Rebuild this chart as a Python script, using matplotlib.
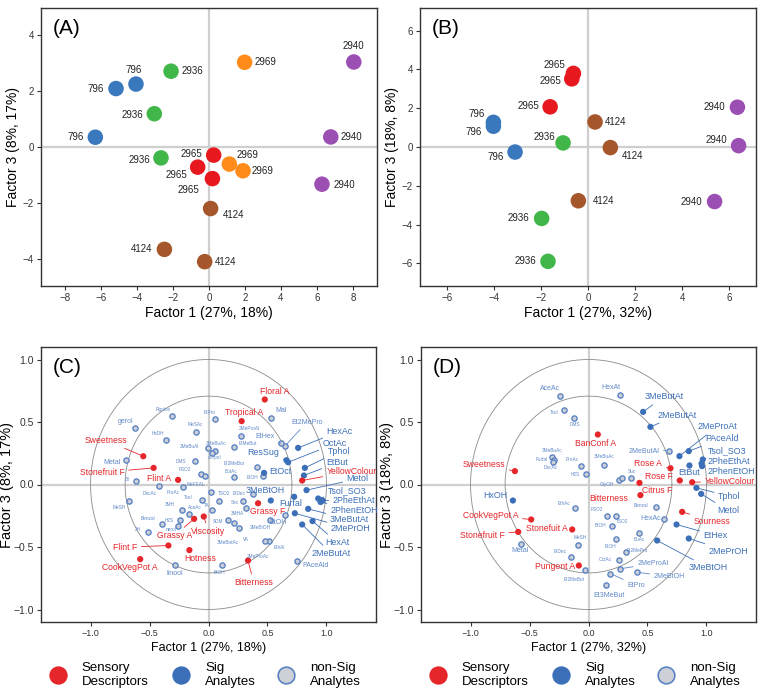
import matplotlib.pyplot as plt
import numpy as np
from matplotlib.lines import Line2D

plt.rcParams['font.family'] = ['Liberation Sans', 'DejaVu Sans']

# ---------------- data: scores (A, B) ----------------
a_names = ['796', '796', '796', '2936', '2936', '2936', '2969', '2969', '2969',
           '2965', '2965', '2965', '2940', '2940', '2940', '4124', '4124', '4124']
a_x = [-5.17, -4.06, -6.32, -2.11, -3.04, -2.67, 1.98, 1.13, 1.89,
       0.26, -0.63, 0.19, 8.05, 6.77, 6.28, 0.09, -2.48, -0.24]
a_y = [2.09, 2.25, 0.35, 2.71, 1.19, -0.39, 3.03, -0.61, -0.85,
       -0.29, -0.72, -1.13, 3.04, 0.36, -1.33, -2.20, -3.66, -4.10]

b_names = ['2965', '2965', '2965', '796', '796', '796', '2936', '2936', '2936',
           '4124', '4124', '4124', '2940', '2940', '2940']
b_x = [-0.62, -0.69, -1.61, -4.02, -4.02, -3.10, -1.06, -1.97, -1.70,
       0.30, 0.95, -0.41, 6.35, 6.40, 5.38]
b_y = [3.79, 3.51, 2.07, 1.27, 1.07, -0.26, 0.21, -3.68, -5.89,
       1.29, -0.03, -2.77, 2.05, 0.07, -2.81]

sample_colors = {'796': '#3a78bd', '2936': '#41b649', '2969': '#ff8c1a',
                 '2965': '#e8191e', '2940': '#9c4fb3', '4124': '#a5562a'}

# label offsets in pixels (layout)
a_off = [(-20, 0), (-2, 14), (-20, 0), (21, 0), (-22, -1), (-22, -2), (21, 0), (18, 9), (20, 0),
         (-22, 1), (-21, -8), (-24, -11), (0, 16), (21, 0), (22, -1), (23, -6), (-23, 0), (21, 0)]
b_off = [(-19, 8), (-21, -2), (-22, 1), (-17, 8), (-20, -6), (-19, -5), (-19, 6), (-23, 0), (-23, 0),
         (21, 0), (22, -8), (25, 0), (-23, 0), (-22, 6), (-23, 0)]

# ---------------- data: loadings (C) ----------------
c_sens_names = ['Sweetness', 'Stonefruit F', 'Flint A', 'Floral A', 'Tropical A', 'YellowColour',
                'Grassy F', 'Bitterness', 'Grassy A', 'Viscosity', 'Flint F', 'Hotness', 'CookVegPot A']
c_sens_x = [-0.553, -0.465, -0.258, 0.477, 0.281, 0.794, 0.42, 0.335, -0.122, -0.04, -0.34, -0.162, -0.579]
c_sens_y = [0.226, 0.133, 0.037, 0.68, 0.507, 0.032, -0.15, -0.608, -0.275, -0.256, -0.488, -0.525, -0.597]
c_sens_lab = [(-0.868, 0.352, 'center', True), (-0.902, 0.096, 'center', True), (-0.417, 0.048, 'center', False),
              (0.559, 0.746, 'center', False), (0.298, 0.576, 'center', False), (1.004, 0.106, 'left', True),
              (0.502, -0.216, 'center', False), (0.383, -0.784, 'center', True), (-0.289, -0.408, 'center', True),
              (0.0, -0.376, 'center', True), (-0.706, -0.502, 'center', True), (-0.071, -0.59, 'center', False),
              (-0.666, -0.664, 'center', False)]

c_sig_names = ['HexAc', 'OctAc', 'Tphol', 'EtBut', 'Metol', 'Tsol_SO3', '2PheEthAt', '2PhenEtOH',
               '3MeButAt', '2MePrOH', 'HexAt', '2MeButAt', 'Furfal', 'EtOct', '3MeBtOH', 'ResSug']
c_sig_x = [0.76, 0.675, 0.817, 0.809, 0.831, 0.93, 0.967, 0.95, 0.845, 0.732, 0.882, 0.794, 0.726, 0.471, 0.528, 0.661]
c_sig_y = [0.293, 0.178, 0.133, 0.072, -0.045, -0.112, -0.128, -0.14, -0.195, -0.23, -0.293, -0.32, -0.098, 0.093, -0.128, 0.194]
c_sig_lab = [(1.002, 0.426, 'left', True), (0.97, 0.326, 'left', True), (1.013, 0.266, 'left', True),
             (0.996, 0.174, 'left', True), (1.172, 0.046, 'left', True), (1.013, -0.05, 'left', True),
             (1.055, -0.125, 'left', True), (1.038, -0.205, 'left', True), (1.03, -0.28, 'left', True),
             (1.038, -0.355, 'left', True), (0.987, -0.462, 'left', True), (0.874, -0.552, 'left', True),
             (0.70, -0.15, 'center', False), (0.519, 0.106, 'left', False), (0.48, -0.045, 'center', False),
             (0.466, 0.254, 'center', True)]

c_mid_names = ['Mal', 'Et2MePro', 'EtHex', 'Metal', 'gerol', 'linool', 'PAceAld', 'BtOH']
c_mid_x = [0.533, 0.647, 0.613, -0.70, -0.624, -0.283, 0.752, 0.652]
c_mid_y = [0.53, 0.307, 0.33, 0.20, 0.453, -0.64, -0.613, -0.245]
c_mid_lab = [(0.613, 0.592, 'center', False), (0.834, 0.498, 'center', True), (0.477, 0.382, 'center', True),
             (-0.817, 0.174, 'center', False), (-0.70, 0.506, 'center', False), (-0.289, -0.712, 'center', False),
             (0.797, -0.646, 'left', False), (0.59, -0.302, 'center', False)]

c_ns_names = ['Rgolox', 'HxDH', 'MeSAc', '2MeBuAl', '3MeBuAc', 'aTrpol', 'EtPro', '2MeProAl', 'EtMeBut',
              'Et2MeBut', 'ButAc', 'EtOH', 'DMS', 'FSO2', '', 'Bil', 'DecAc', 'ProAc', 'MeFEAL', 'TSO2',
              'Tsol', 'TA', 'EtDec', 'Sec', '3MHA', '3MH', 'AceAc', 'H2S', 'Benzal', 'nerol', 'MeSH',
              '2H', 'SDM', '3MeButAc', 'VA', '2MeBtOH', 'EthAl', '2MeProAc', 'BtOH']
c_ns_x = [-0.309, -0.363, -0.11, -0.006, 0.051, 0.03, 0.057, 0.278, 0.216,
          0.414, 0.216, 0.46, -0.113, -0.062, -0.03, -0.615, -0.423, -0.219, 0.023, 0.085,
          -0.057, 0.031, 0.377, 0.292, 0.321, -0.224, -0.162, -0.238, -0.394, -0.26, -0.672,
          -0.517, 0.164, 0.216, 0.255, 0.519, 0.51, 0.477, 0.113]
c_ns_y = [0.547, 0.36, 0.42, 0.29, 0.266, 0.25, 0.522, 0.392, 0.298,
          0.139, 0.058, 0.07, 0.187, 0.088, 0.07, 0.03, -0.013, -0.021, -0.062, -0.128,
          -0.123, -0.205, -0.072, -0.128, -0.19, -0.2, -0.232, -0.28, -0.312, -0.33, -0.13,
          -0.381, -0.285, -0.304, -0.347, -0.28, -0.453, -0.453, -0.64]
c_ns_lab = [(-0.383, 0.6), (-0.426, 0.408), (-0.113, 0.48), (-0.162, 0.30), (0.066, 0.33), (0.051, 0.218),
            (0.009, 0.576), (0.349, 0.448), (0.332, 0.326), (0.221, 0.168), (0.193, 0.106), (0.372, 0.056),
            (-0.232, 0.187), (-0.204, 0.12), (0, 0), (-0.687, 0.038), (-0.502, -0.072), (-0.304, -0.066),
            (-0.105, 0.0), (0.136, -0.074), (-0.176, -0.106), (-0.017, -0.17), (0.26, -0.075),
            (0.221, -0.146), (0.249, -0.232), (-0.332, -0.16), (-0.119, -0.186), (-0.33, -0.29),
            (-0.517, -0.272), (-0.32, -0.36), (-0.757, -0.186), (-0.6, -0.36), (0.079, -0.298),
            (0.162, -0.466), (0.321, -0.44), (0.44, -0.342), (0.604, -0.506), (0.42, -0.574), (0.094, -0.706)]

# ---------------- data: loadings (D) ----------------
d_sens_names = ['Sweetness', 'BanConf A', 'Rose A', 'Rose F', 'YellowColour', 'Citrus F', 'Bitterness',
                'Sourness', 'CookVegPot A', 'Stonefuit A', 'Stonefruit F', 'Pungent A']
d_sens_x = [-0.624, 0.079, 0.695, 0.774, 0.879, 0.432, 0.44, 0.794, -0.486, -0.138, -0.596, -0.082]
d_sens_y = [0.107, 0.40, 0.13, 0.032, 0.018, 0.013, -0.085, -0.219, -0.28, -0.36, -0.379, -0.648]
d_sens_lab = [(-0.887, 0.16, 'center', True), (0.059, 0.328, 'center', False), (0.508, 0.166, 'center', True),
              (0.596, 0.062, 'center', True), (0.985, 0.026, 'left', True), (0.582, -0.048, 'center', False),
              (0.172, -0.112, 'center', False), (1.048, -0.294, 'center', True), (-0.83, -0.248, 'center', True),
              (-0.356, -0.354, 'center', False), (-0.90, -0.406, 'center', True), (-0.28, -0.658, 'center', False)]

d_sig_names = ['HxOH', '3MeButAt', '2MeButAt', '2MeProAt', 'PAceAld', 'Tsol_SO3', '2PheEthAt', '2PhenEtOH',
               'EtBut', 'Tphol', 'Metol', 'EtHex', '2MePrOH', '3MeBtOH']
d_sig_x = [-0.641, 0.463, 0.525, 0.771, 0.85, 0.969, 0.958, 0.963, 0.856, 0.915, 0.955, 0.746, 0.85, 0.582]
d_sig_y = [-0.128, 0.581, 0.461, 0.227, 0.267, 0.20, 0.168, 0.147, 0.152, -0.027, -0.075, -0.32, -0.432, -0.448]
d_sig_lab = [(-0.788, -0.086, 'center', False), (0.638, 0.702, 'center', True), (0.752, 0.554, 'center', True),
             (0.921, 0.462, 'left', True), (0.992, 0.368, 'left', True), (1.008, 0.272, 'left', True),
             (1.008, 0.186, 'left', True), (1.008, 0.106, 'left', True), (0.85, 0.094, 'center', False),
             (1.10, -0.094, 'left', True), (1.09, -0.208, 'left', True), (0.977, -0.408, 'left', True),
             (1.02, -0.534, 'left', True), (0.85, -0.666, 'left', True)]

d_mid_names = ['HexAc', '2MeButAl', '2MeProAl', '2MeBtOH', 'EtPro', 'Et3MeBut', 'Metal', 'HexAt', 'AceAc']
d_mid_x = [0.644, 0.68, 0.265, 0.407, 0.186, 0.15, -0.576, 0.265, -0.243]
d_mid_y = [-0.275, 0.272, -0.675, -0.701, -0.712, -0.80, -0.472, 0.714, 0.707]
d_mid_lab = [(0.53, -0.275, 'center', False), (0.47, 0.264, 'center', True), (0.413, -0.632, 'left', True),
             (0.553, -0.738, 'left', True), (0.328, -0.808, 'left', True), (0.172, -0.888, 'center', True),
             (-0.576, -0.53, 'center', False), (0.186, 0.774, 'center', False), (-0.322, 0.766, 'center', False)]

d_ns_names = ['Tsol', 'DMS', '3MeBuAc', 'Furfal', 'DecAc', 'ProAc', 'H2S', '3MeBuAc', 'GlyOH', 'Suc',
              'EthAc', 'MeSH', 'EtDec', 'Et2MeBut', 'FSO2', 'TSO2', 'BtOH', 'Benzal', 'BuAc', 'EtOH',
              'Et2MePro', 'OctAc', '']
d_ns_x = [-0.209, -0.119, -0.308, -0.294, -0.30, -0.065, -0.02, 0.133, 0.26, 0.364,
          -0.116, -0.09, -0.147, -0.031, 0.158, 0.237, 0.195, 0.568, 0.432, 0.235,
          0.319, 0.26, 0.28]
d_ns_y = [0.60, 0.533, 0.221, 0.195, 0.18, 0.152, 0.083, 0.157, 0.04, 0.053,
          -0.184, -0.48, -0.581, -0.68, -0.248, -0.248, -0.328, -0.179, -0.387, -0.435,
          -0.539, -0.60, 0.053]
d_ns_lab = [(-0.294, 0.58), (-0.119, 0.48), (-0.308, 0.27), (-0.398, 0.20), (-0.322, 0.133), (-0.138, 0.20),
            (-0.11, 0.083), (0.133, 0.22), (0.158, 0.002), (0.364, 0.106), (-0.209, -0.152), (-0.068, -0.427),
            (-0.24, -0.538), (-0.124, -0.76), (0.074, -0.2), (0.285, -0.294), (0.102, -0.328), (0.441, -0.168),
            (0.432, -0.44), (0.186, -0.498), (0.418, -0.526), (0.144, -0.60), (0, 0)]

RED = '#e5262b'
BLUE = '#3b6fb8'
NSTXT = '#5f88c8'
RINGFACE = '#cdd0d6'

W, H = 762, 695
fig = plt.figure(figsize=(W / 100, H / 100), dpi=100)


def px_axes(left, top, right, bottom):
    return fig.add_axes([left / W, 1 - bottom / H, (right - left) / W, (bottom - top) / H])


def style(ax, lab):
    for s in ax.spines.values():
        s.set_color('#333333')
        s.set_linewidth(1.0)
    ax.axhline(0, color='#cfcfcf', lw=1.6, zorder=0)
    ax.axvline(0, color='#cfcfcf', lw=1.6, zorder=0)
    ax.tick_params(direction='out', length=3, width=0.8, colors='#333333', pad=2)
    ax.text(0.035, 0.96, lab, transform=ax.transAxes, fontsize=15, va='top', ha='left')


def scores(ax, names, xs, ys, offs):
    for n, x, y, o in zip(names, xs, ys, offs):
        ax.scatter(x, y, s=125, color=sample_colors[n], edgecolors='none', zorder=3)
        ax.annotate(n, (x, y), xytext=o, textcoords='offset pixels', ha='center', va='center',
                    fontsize=7, color='#222222')


def loadings(ax, names, xs, ys, labs, kind):
    for i, (n, x, y) in enumerate(zip(names, xs, ys)):
        lab = labs[i]
        if kind == 'sens':
            ax.scatter(x, y, s=20, color=RED, edgecolors='none', zorder=4)
            col, fs = RED, 6.2
        elif kind == 'sig':
            ax.scatter(x, y, s=20, color=BLUE, edgecolors='none', zorder=4)
            col, fs = BLUE, 6.4
        else:
            ax.scatter(x, y, s=14, color=RINGFACE, edgecolors='#5b84c4', linewidths=1.0, zorder=3)
            col, fs = NSTXT, (5.0 if kind == 'mid' else 3.4)
        if not n:
            continue
        ha = lab[2] if len(lab) > 2 else 'center'
        line = lab[3] if len(lab) > 3 else False
        ap = dict(arrowstyle='-', color=col, lw=0.6, shrinkA=1, shrinkB=2) if line else None
        ax.annotate(n, (x, y), xytext=(lab[0], lab[1]), ha=ha, va='center', fontsize=fs,
                    color=col, arrowprops=ap, annotation_clip=False, zorder=5)


# ---------------- (A) ----------------
axA = px_axes(41, 8, 377, 286)
style(axA, '(A)')
scores(axA, a_names, a_x, a_y, a_off)
axA.set_xlim(-9.34, 9.34)
axA.set_ylim(-4.97, 4.97)
axA.set_xticks(np.arange(-8, 9, 2))
axA.set_yticks(np.arange(-4, 5, 2))
axA.tick_params(labelsize=7)
axA.set_xlabel('Factor 1 (27%, 18%)', fontsize=10, labelpad=2)
axA.set_ylabel('Factor 3 (8%, 17%)', fontsize=10, labelpad=2)

# ---------------- (B) ----------------
axB = px_axes(420, 8, 756, 286)
style(axB, '(B)')
scores(axB, b_names, b_x, b_y, b_off)
axB.set_xlim(-7.14, 7.14)
axB.set_ylim(-7.16, 7.16)
axB.set_xticks(np.arange(-6, 7, 2))
axB.set_yticks(np.arange(-6, 7, 2))
axB.tick_params(labelsize=7)
axB.set_xlabel('Factor 1 (27%, 32%)', fontsize=10, labelpad=2)
axB.set_ylabel('Factor 3 (18%, 8%)', fontsize=10, labelpad=2)

# ---------------- (C) and (D) ----------------
t = np.linspace(0, 2 * np.pi, 400)
panels = [
    ('(C)', 41, 'Factor 1 (27%, 18%)', 'Factor 3 (8%, 17%)',
     (c_sens_names, c_sens_x, c_sens_y, c_sens_lab), (c_sig_names, c_sig_x, c_sig_y, c_sig_lab),
     (c_mid_names, c_mid_x, c_mid_y, c_mid_lab), (c_ns_names, c_ns_x, c_ns_y, c_ns_lab)),
    ('(D)', 421, 'Factor 1 (27%, 32%)', 'Factor 3 (18%, 8%)',
     (d_sens_names, d_sens_x, d_sens_y, d_sens_lab), (d_sig_names, d_sig_x, d_sig_y, d_sig_lab),
     (d_mid_names, d_mid_x, d_mid_y, d_mid_lab), (d_ns_names, d_ns_x, d_ns_y, d_ns_lab)),
]
for lab, left, xl, yl, sens, sig, mid, ns in panels:
    ax = px_axes(left, 347, left + 335, 622)
    style(ax, lab)
    for r in (1.0, np.sqrt(0.5)):
        ax.plot(r * np.cos(t), r * np.sin(t), color='#8a8a8a', lw=0.6, zorder=1)
    loadings(ax, *ns, 'ns')
    loadings(ax, *mid, 'mid')
    loadings(ax, *sig, 'sig')
    loadings(ax, *sens, 'sens')
    ax.set_xlim(-1.42, 1.42)
    ax.set_ylim(-1.1, 1.1)
    ticks = [-1.0, -0.5, 0.0, 0.5, 1.0]
    ax.set_xticks(ticks)
    ax.set_yticks(ticks)
    ax.tick_params(axis='x', labelsize=6.5)
    ax.tick_params(axis='y', labelsize=7.5)
    ax.set_xlabel(xl, fontsize=9, labelpad=3)
    ax.set_ylabel(yl, fontsize=10.5, labelpad=0)

    # legend
    x0 = left - 41
    items = [(57.6, RED, RED, 'Sensory\nDescriptors'),
             (181, BLUE, BLUE, 'Sig\nAnalytes'),
             (286, RINGFACE, '#5b84c4', 'non-Sig\nAnalytes')]
    for cx, fc, ec, txt in items:
        fig.add_artist(Line2D([(x0 + cx) / W], [1 - 675 / H], marker='o', ms=12, mfc=fc, mec=ec,
                              mew=1.2, ls='', transform=fig.transFigure))
        fig.text((x0 + cx + 24) / W, 1 - 675 / H, txt, fontsize=9.5, va='center', ha='left',
                 linespacing=1.15)

fig.savefig('out.png', dpi=100)
